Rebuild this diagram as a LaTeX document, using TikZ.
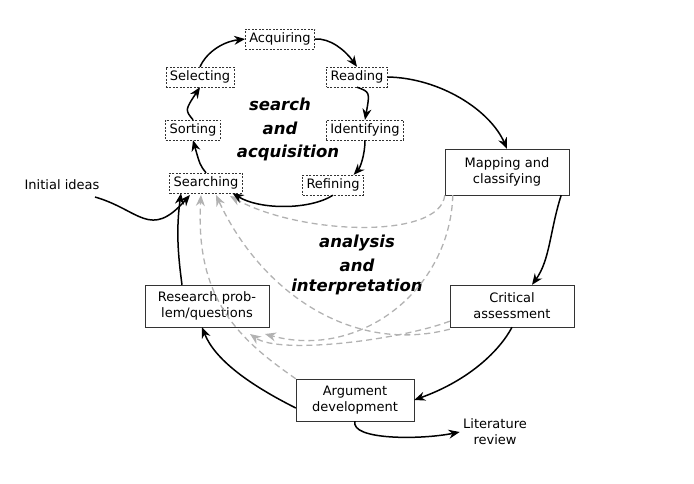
\documentclass[tikz,border=0pt]{standalone}
\usepackage{fontspec}
\setmainfont{DejaVu Sans}
\usetikzlibrary{arrows.meta}
\begin{document}
\begin{tikzpicture}[x=1pt,y=-1pt,
  sbox/.style={draw=black!80,dashed,dash pattern=on 2pt off 1.5pt,font=\fontsize{13}{15}\selectfont,minimum height=20pt,inner xsep=4pt},
  bbox/.style={draw=black!80,font=\fontsize{13}{16}\selectfont,align=center,minimum height=42pt,text width=112pt,inner sep=2pt},
  blk/.style={line width=1.5pt,-{Stealth[length=11pt,width=9pt]}},
  gry/.style={line width=1.3pt,black!30,dashed,dash pattern=on 6pt off 4pt,-{Stealth[length=11pt,width=9pt]}},
  big/.style={font=\bfseries\itshape\fontsize{16.5}{18}\selectfont}]
\useasboundingbox (0,0) rectangle (694,484);
\node[sbox] (acq) at (280,39) {Acquiring};
\node[sbox] (sel) at (200,77) {Selecting};
\node[sbox] (rea) at (357,77) {Reading};
\node[sbox] (sor) at (193,130) {Sorting};
\node[sbox] (ide) at (365,130) {Identifying};
\node[sbox] (sea) at (206,183) {Searching};
\node[sbox] (ref) at (333,185) {Refining};
\node[big] (t1) at (280,104) {search};
\node[big] (t2) at (280,128) {and};
\node[big] (t3) at (288,153) {acquisition};
\node[big] (a1) at (357,243) {analysis};
\node[big] (a2) at (357,265) {and};
\node[big] (a3) at (357,287) {interpretation};
\node[bbox,text width=120pt,minimum height=46pt] (map) at (507,172) {Mapping and\\classifying};
\node[bbox,text width=120pt] (cri) at (512,306) {Critical\\assessment};
\node[bbox,text width=120pt] (res) at (207,306) {Research prob-\\lem/questions};
\node[bbox,text width=114pt] (arg) at (355,400) {Argument\\development};
\node[font=\fontsize{13}{15}\selectfont] (ini) at (62,185) {Initial ideas};
\node[font=\fontsize{13}{16}\selectfont,align=center] (lit) at (495,432) {Literature\\review};
\coordinate (inis) at (95,197);
% gray dashed
\draw[gry] (map.south west) .. controls (440,240) and (300,235) .. (230,196);
\draw[gry] ([xshift=8pt]map.south west) .. controls (450,290) and (360,360) .. (265,334);
\draw[gry] ([yshift=6pt]cri.south west) .. controls (400,340) and (280,355) .. (250,334);
\draw[gry] ([yshift=-2pt]cri.south west) .. controls (350,355) and (260,290) .. (216,195);
\draw[gry] (arg.north west) .. controls (240,340) and (195,300) .. (201,195);
% black cycle
\draw[blk] (acq.east) .. controls (330,38) and (345,50) .. (rea.north);
\draw[blk] (sel.north) .. controls (205,55) and (220,42) .. (acq.west);
\draw[blk] (sor.north) .. controls (185,110) .. (sel.south);
\draw[blk] (sea.north) .. controls (200,165) .. (sor.south);
\draw[blk] (rea.south) .. controls (370,92) .. (ide.north);
\draw[blk] (ide.south) .. controls (365,155) and (360,168) .. ([xshift=-10pt]ref.north east);
\draw[blk] (ref.south) .. controls (310,210) and (260,210) .. ([xshift=-10pt]sea.south east);
\draw[blk] (rea.east) .. controls (440,78) and (490,110) .. (map.north);
\draw[blk] ([xshift=-8pt]map.south east) .. controls (550,230) and (550,260) .. ([xshift=20pt]cri.north);
\draw[blk] (cri.south) .. controls (500,350) and (470,380) .. (arg.east);
\draw[blk] ([yshift=-8pt]arg.west) .. controls (250,385) and (215,360) .. ([xshift=-5pt]res.south);
\draw[blk] ([xshift=-25pt]res.north) .. controls (178,255) and (176,230) .. ([xshift=-25pt]sea.south);
\draw[blk] (inis) .. controls (140,210) and (150,240) .. (190,195);
\draw[blk] (arg.south) .. controls (350,440) and (420,440) .. (lit.west);
\end{tikzpicture}
\end{document}
